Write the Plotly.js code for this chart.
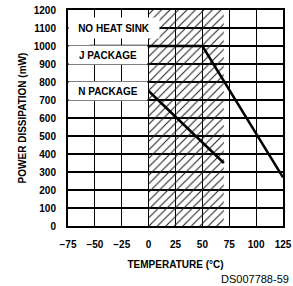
<!DOCTYPE html>
<html>
<head>
<meta charset="utf-8">
<script src="https://cdn.plot.ly/plotly-3.0.1.min.js"></script>
<style>html,body{margin:0;padding:0;background:#fff;overflow:hidden}#chart{width:293px;height:286px}</style>
</head>
<body>
<div id="chart"></div>
<script>
// Data
const jTemp = [-55, 50, 125];
const jPower = [1000, 1000, 270];
const nTemp = [0, 70];
const nPower = [750, 350];
const hatchTemp = [0, 70];       // shaded operating range (°C)
const powerRange = [0, 1200];
const xTicks = [-75, -50, -25, 0, 25, 50, 75, 100, 125];
const yTicks = [0, 100, 200, 300, 400, 500, 600, 700, 800, 900, 1000, 1100, 1200];
const labels = ["NO HEAT SINK", "J PACKAGE", "N PACKAGE"];
const labelPower = [1100, 950, 750];
const note = "DS007788-59";

const F = 'Liberation Sans, Arial, sans-serif';

const traces = [
  {
    x: [hatchTemp[0], hatchTemp[1], hatchTemp[1], hatchTemp[0], hatchTemp[0]],
    y: [powerRange[0], powerRange[0], powerRange[1], powerRange[1], powerRange[0]],
    mode: 'lines', line: {width: 0}, fill: 'toself',
    fillcolor: 'rgba(0,0,0,0)',
    fillpattern: {shape: '/', size: 6, solidity: 0.18, fgcolor: '#222', bgcolor: 'rgba(0,0,0,0)'},
    hoverinfo: 'skip', showlegend: false
  },
  {x: jTemp, y: jPower, mode: 'lines', line: {color: '#000', width: 2.5}, showlegend: false},
  {x: nTemp, y: nPower, mode: 'lines', line: {color: '#000', width: 2.5}, showlegend: false}
];

const annW = [88, 76, 76];
const annH = [18, 16, 16];
const annX = [-32.5, -37.5, -37.5];
const annotations = labels.map((t, i) => ({
  text: t, x: annX[i], y: labelPower[i], xref: 'x', yref: 'y',
  xanchor: 'center', yanchor: 'middle', showarrow: false,
  width: annW[i], height: annH[i], bgcolor: '#fff', borderpad: 1,
  font: {family: F, size: 10, color: '#000', weight: 'bold'}
}));
annotations.push({
  text: note, xref: 'paper', yref: 'paper', x: 0.70, y: -0.245,
  xanchor: 'left', yanchor: 'middle', showarrow: false,
  font: {family: F, size: 11, color: '#000', weight: 'normal'}
});

const layout = {
  width: 293, height: 286,
  margin: {l: 68, r: 10, t: 10, b: 60},
  paper_bgcolor: '#fff', plot_bgcolor: '#fff',
  showlegend: false,
  font: {family: F, size: 10, color: '#000', weight: 'bold'},
  xaxis: {
    range: [xTicks[0], xTicks[xTicks.length - 1]], tickvals: xTicks,
    showgrid: true, gridcolor: '#000', gridwidth: 1.2,
    showline: true, mirror: true, linecolor: '#000', linewidth: 2,
    zeroline: false, ticks: '', ticklabelstandoff: 8,
    tickfont: {family: F, size: 10, weight: 'bold'},
    title: {text: 'TEMPERATURE (°C)', standoff: 12, font: {family: F, size: 10, weight: 'bold'}},
    fixedrange: true
  },
  yaxis: {
    range: powerRange, tickvals: yTicks,
    showgrid: true, gridcolor: '#000', gridwidth: 1.2,
    showline: true, mirror: true, linecolor: '#000', linewidth: 2,
    zeroline: false, ticks: '', ticklabelstandoff: 8,
    tickfont: {family: F, size: 10, weight: 'bold'},
    title: {text: 'POWER DISSIPATION (mW)', standoff: 5, font: {family: F, size: 10, weight: 'bold'}},
    fixedrange: true
  },
  annotations: annotations
};

Plotly.newPlot('chart', traces, layout, {displayModeBar: false, staticPlot: true});
</script>
</body>
</html>
